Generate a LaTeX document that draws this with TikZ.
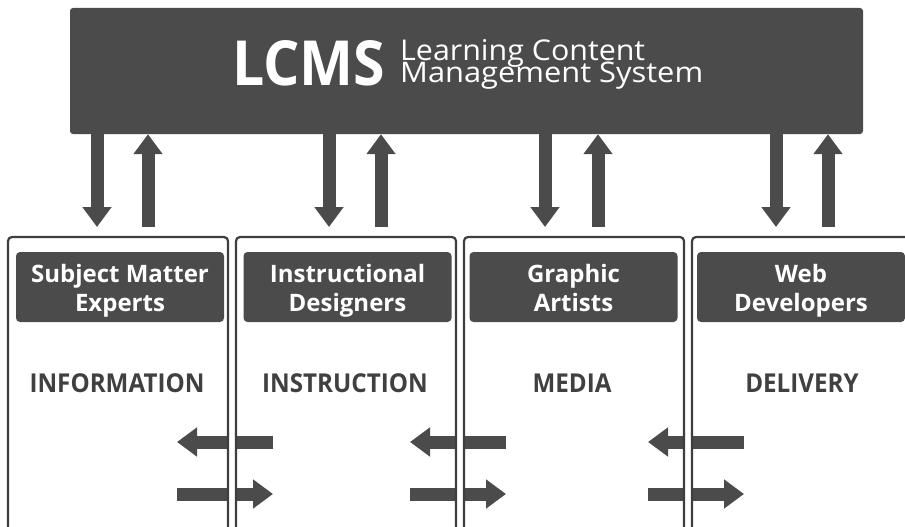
\documentclass[tikz,border=0pt]{standalone}
\usepackage{fontspec}
\setmainfont{Open Sans}
\usetikzlibrary{arrows.meta}
\definecolor{dk}{HTML}{4B4B4B}
\definecolor{ln}{HTML}{3E3E3E}
\definecolor{tx}{HTML}{404040}
\newcommand{\lblsc}[1]{\scalebox{0.93}[1]{#1}}
\begin{document}
\begin{tikzpicture}[x=1pt,y=-1pt,
  topbox/.style={fill=dk, rounded corners=3pt, inner sep=0pt, minimum width=793pt, minimum height=126pt},
  hdr/.style={fill=dk, rounded corners=4pt, inner sep=0pt, minimum width=208pt, minimum height=70pt},
  hdrtext/.style={anchor=north, inner sep=0pt, text=white, align=center,
    font=\fontsize{24}{29}\selectfont\bfseries},
  ttl/.style={anchor=north west, inner sep=0pt, text=white},
  lbl/.style={anchor=base, inner sep=0pt, text=tx, font=\fontsize{26}{30}\selectfont\bfseries},
  colline/.style={draw=ln, line width=2.2pt, rounded corners=4pt},
  bigarrow/.style={draw=dk, line width=13pt, -{Triangle[width=28pt,length=20pt]}}
]
\useasboundingbox (0,0) rectangle (905,527);
\clip (0,0) rectangle (905,527);
\fill[white] (0,0) rectangle (905,527);

% top box
\node[topbox] (lcms) at (466.5,71) {};
\node[ttl] (t1) at (232,40) {\resizebox{153pt}{45pt}{\bfseries LCMS}};
\node[ttl, align=left, font={\fontsize{28}{22}\selectfont\lineskiplimit=-100pt}] (t2) at (400,39)
  {\resizebox{245pt}{21pt}{Learning Content}\\\resizebox{303pt}{20.5pt}{Management System}};

% vertical arrow end points
\coordinate (d1) at (97,227);  \coordinate (u1) at (148,227);
\coordinate (d2) at (329,227); \coordinate (u2) at (381,227);
\coordinate (d3) at (545,227); \coordinate (u3) at (598,227);
\coordinate (d4) at (776,227); \coordinate (u4) at (828,227);
\foreach \i in {1,2,3,4}{
  \draw[bigarrow] (lcms.south -| d\i) -- (d\i);
  \draw[bigarrow] (u\i) -- (lcms.south -| u\i);
}

% horizontal arrows
\coordinate (la1) at (273,442); \coordinate (lb1) at (177,442);
\coordinate (la2) at (506,442); \coordinate (lb2) at (410,442);
\coordinate (la3) at (744,442); \coordinate (lb3) at (648,442);
\coordinate (ra1) at (177,494); \coordinate (rb1) at (273,494);
\coordinate (ra2) at (410,494); \coordinate (rb2) at (506,494);
\coordinate (ra3) at (648,494); \coordinate (rb3) at (744,494);
\foreach \i in {1,2,3}{
  \draw[bigarrow] (la\i) -- (lb\i);
  \draw[bigarrow] (ra\i) -- (rb\i);
}

% white gaps between columns
\fill[white] (228,237) rectangle (236,540);
\fill[white] (456,237) rectangle (464,540);
\fill[white] (684,237) rectangle (692,540);

% columns
\draw[colline] (8,545) -- (8,237) -- (228,237) -- (228,545);
\draw[colline] (236,545) -- (236,237) -- (456,237) -- (456,545);
\draw[colline] (464,545) -- (464,237) -- (684,237) -- (684,545);
\draw[colline] (692,545) -- (692,237) -- (912,237) -- (912,545);

% headers
\node[hdr] (h1) at (120,287) {};
\node[hdr] (h2) at (347.5,287) {};
\node[hdr] (h3) at (573.5,287) {};
\node[hdr] (h4) at (801,287) {};
\node[hdrtext] (h1t) at (120,261.7) {\strut Subject Matter\\\strut Experts};
\node[hdrtext] (h2t) at (347.5,261.7) {\strut Instructional\\\strut Designers};
\node[hdrtext] (h3t) at (573.5,261.7) {\strut Graphic\\\strut Artists};
\node[hdrtext] (h4t) at (801,261.7) {\strut Web\\\strut Developers};

% labels
\node[lbl] (c1) at (117,392) {\lblsc{INFORMATION}};
\node[lbl] (c2) at (345,392) {\lblsc{INSTRUCTION}};
\node[lbl] (c3) at (572,392) {\lblsc{MEDIA}};
\node[lbl] (c4) at (802,392) {\lblsc{DELIVERY}};
\end{tikzpicture}
\end{document}
